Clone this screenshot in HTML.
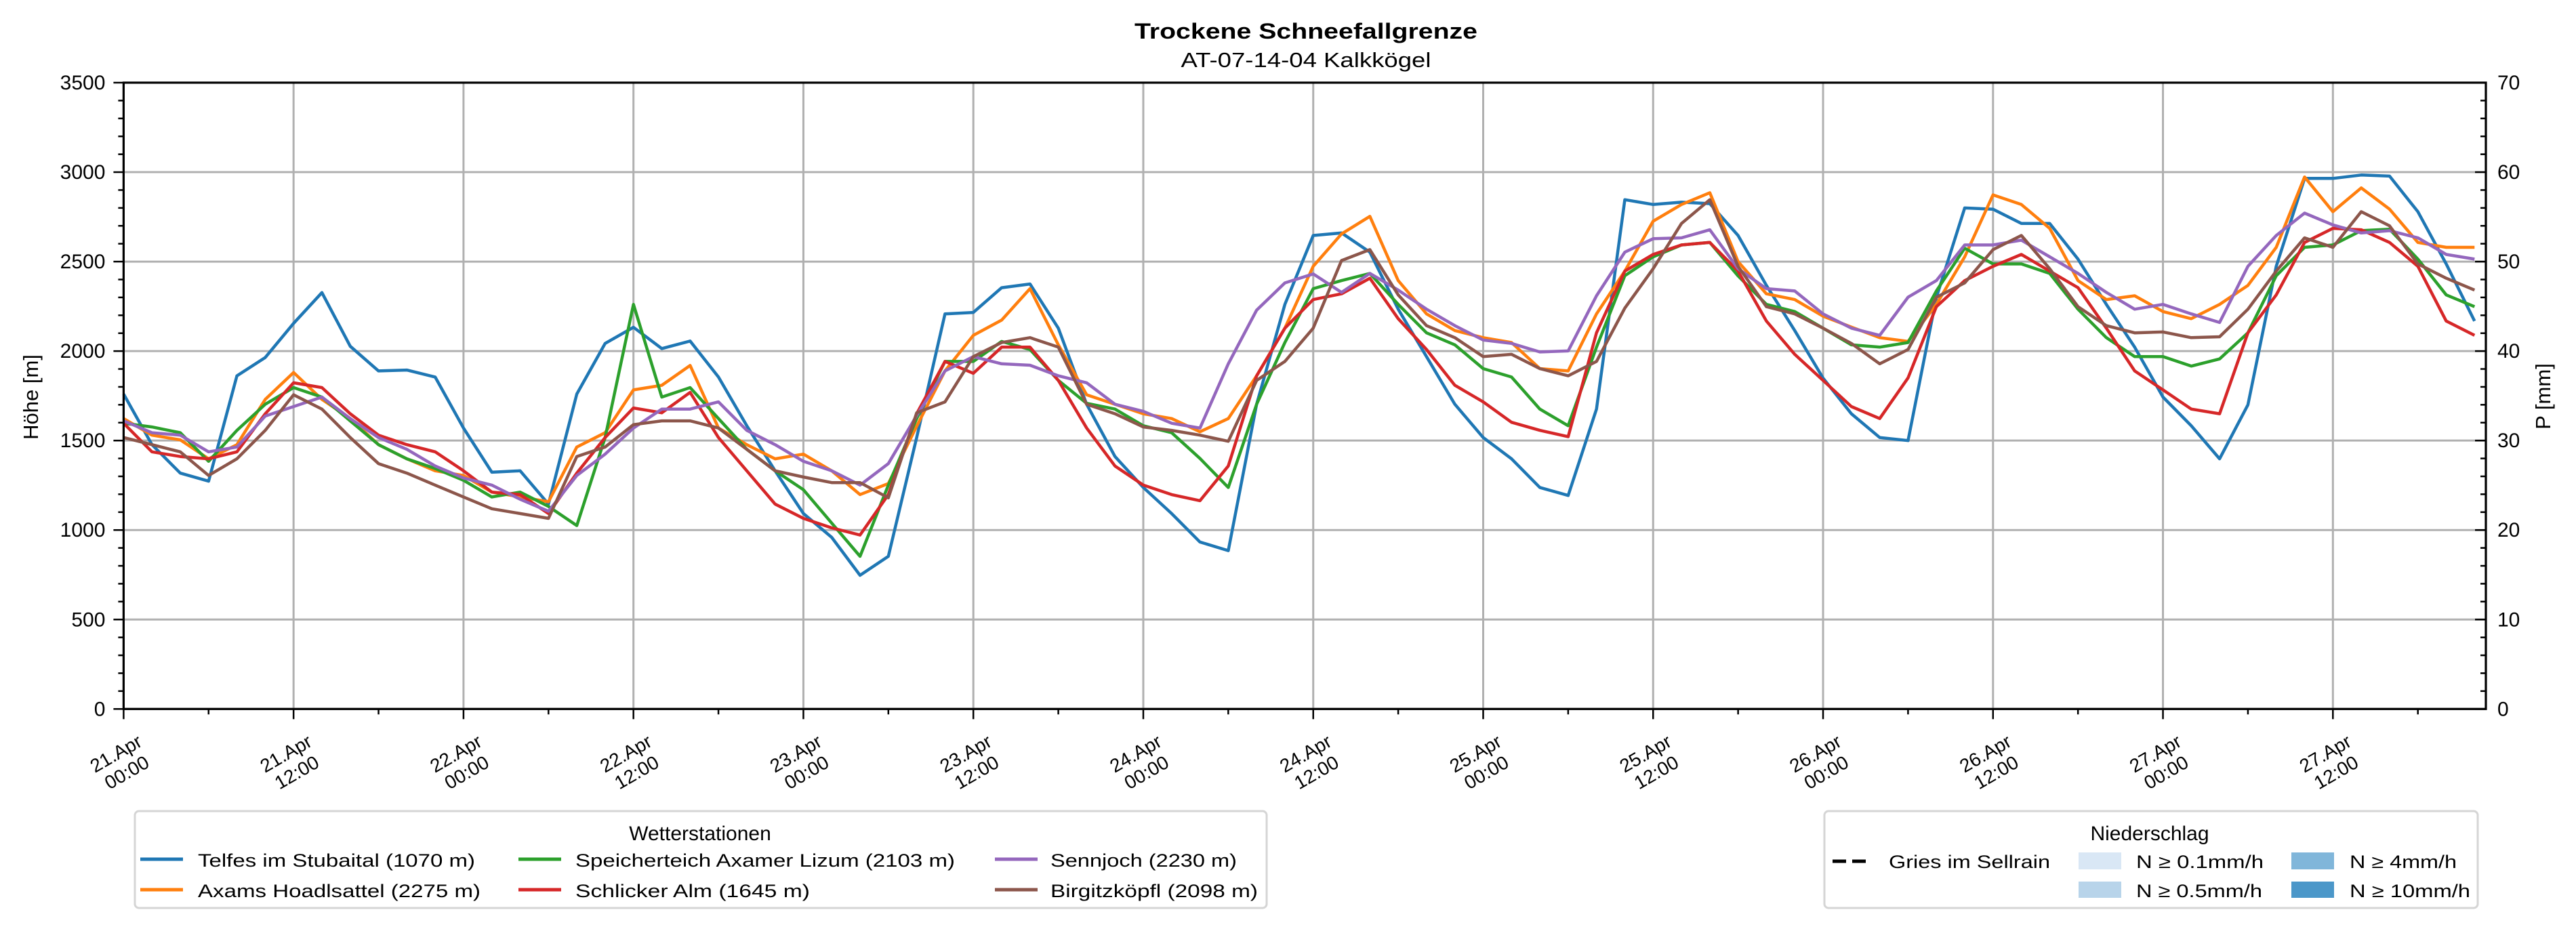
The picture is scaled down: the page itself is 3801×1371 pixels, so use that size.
<!DOCTYPE html>
<html><head><meta charset="utf-8"><style>
html,body{margin:0;padding:0;background:#fff;}
svg{display:block;font-family:"Liberation Sans","DejaVu Sans",sans-serif;}
</style></head><body>
<svg id="chart" width="3801" height="1371" viewBox="0 0 3801 1371" xmlns="http://www.w3.org/2000/svg">
<rect width="3801" height="1371" fill="#fff"/>
<g id="grid"></g>
<g id="series"></g>
<g id="axes"></g>
<text x="1927" y="57" text-anchor="middle" font-size="32" font-weight="bold" textLength="506" lengthAdjust="spacingAndGlyphs">Trockene Schneefallgrenze</text>
<text x="1927" y="99" text-anchor="middle" font-size="31" textLength="369" lengthAdjust="spacingAndGlyphs">AT-07-14-04 Kalkkögel</text>
<text transform="translate(56,586) rotate(-90)" text-anchor="middle" font-size="31">Höhe [m]</text>
<text transform="translate(3763,585) rotate(-90)" text-anchor="middle" font-size="31">P [mm]</text>

<g>
<rect x="199" y="1197" width="1670" height="143" rx="6" fill="#fff" stroke="#d5d5d5" stroke-width="3"/>
<text x="1033" y="1240" text-anchor="middle" font-size="30">Wetterstationen</text>
<g><line x1="207" y1="1268" x2="270" y2="1268" stroke="#1f77b4" stroke-width="5"/><text x="292" y="1279" font-size="27" textLength="409" lengthAdjust="spacingAndGlyphs">Telfes im Stubaital (1070 m)</text></g>
<g><line x1="207" y1="1313" x2="270" y2="1313" stroke="#ff7f0e" stroke-width="5"/><text x="292" y="1324" font-size="27" textLength="417" lengthAdjust="spacingAndGlyphs">Axams Hoadlsattel (2275 m)</text></g>
<g><line x1="765" y1="1268" x2="828" y2="1268" stroke="#2ca02c" stroke-width="5"/><text x="849" y="1279" font-size="27" textLength="560" lengthAdjust="spacingAndGlyphs">Speicherteich Axamer Lizum (2103 m)</text></g>
<g><line x1="765" y1="1313" x2="828" y2="1313" stroke="#d62728" stroke-width="5"/><text x="849" y="1324" font-size="27" textLength="346" lengthAdjust="spacingAndGlyphs">Schlicker Alm (1645 m)</text></g>
<g><line x1="1468" y1="1268" x2="1531" y2="1268" stroke="#9467bd" stroke-width="5"/><text x="1550" y="1279" font-size="27" textLength="275" lengthAdjust="spacingAndGlyphs">Sennjoch (2230 m)</text></g>
<g><line x1="1468" y1="1313" x2="1531" y2="1313" stroke="#8c564b" stroke-width="5"/><text x="1550" y="1324" font-size="27" textLength="306" lengthAdjust="spacingAndGlyphs">Birgitzköpfl (2098 m)</text></g>
</g>

<g>
<rect x="2692" y="1197" width="964" height="143" rx="6" fill="#fff" stroke="#d5d5d5" stroke-width="3"/>
<text x="3172" y="1240" text-anchor="middle" font-size="30">Niederschlag</text>
<g><line x1="2704" y1="1271" x2="2760" y2="1271" stroke="#000" stroke-width="5" stroke-dasharray="20,9"/><text x="2787" y="1281" font-size="27" textLength="238" lengthAdjust="spacingAndGlyphs">Gries im Sellrain</text></g>
<g><rect x="3067" y="1258" width="63" height="25" fill="#d9e7f5"/><text x="3152" y="1281" font-size="27" textLength="188" lengthAdjust="spacingAndGlyphs">N ≥ 0.1mm/h</text></g>
<g><rect x="3067" y="1301" width="63" height="24" fill="#b8d4ea"/><text x="3152" y="1324" font-size="27" textLength="186" lengthAdjust="spacingAndGlyphs">N ≥ 0.5mm/h</text></g>
<g><rect x="3381" y="1258" width="63" height="25" fill="#80b6da"/><text x="3467" y="1281" font-size="27" textLength="158" lengthAdjust="spacingAndGlyphs">N ≥ 4mm/h</text></g>
<g><rect x="3381" y="1301" width="63" height="24" fill="#4b97c9"/><text x="3467" y="1324" font-size="27" textLength="178" lengthAdjust="spacingAndGlyphs">N ≥ 10mm/h</text></g>
</g>
</svg>
<script>
// hours since 21.Apr 00:00, step 2h
const hours = Array.from({length:84},(_, i)=>i*2);
const telfes = [1760,1477,1318,1273,1862,1964,2155,2327,2027,1889,1894,1855,1570,1323,1331,1145,1760,2043,2133,2014,2056,1855,1583,1331,1092,959,747,853,1517,2208,2216,2354,2375,2128,1703,1411,1238,1092,933,885,1703,2261,2646,2660,2553,2234,1969,1703,1517,1398,1238,1193,1676,2846,2819,2832,2824,2646,2367,2115,1849,1650,1517,1500,2300,2800,2793,2713,2713,2514,2261,2022,1743,1583,1398,1700,2474,2965,2965,2984,2978,2779,2487,2168];
const axams = [1623,1530,1504,1398,1477,1730,1880,1730,1623,1477,1398,1331,1305,1212,1185,1158,1464,1544,1783,1809,1920,1570,1477,1398,1424,1331,1198,1260,1580,1889,2088,2173,2349,2035,1756,1703,1650,1623,1549,1623,1862,2128,2474,2655,2753,2394,2208,2115,2075,2048,1902,1889,2208,2447,2726,2819,2885,2500,2320,2288,2195,2134,2075,2054,2261,2527,2873,2819,2686,2394,2288,2309,2221,2181,2261,2367,2580,2973,2779,2912,2793,2607,2580,2580];
const speicherteich = [1597,1576,1544,1384,1557,1703,1796,1743,1610,1477,1398,1344,1278,1185,1212,1132,1025,1517,2261,1743,1796,1623,1451,1331,1225,1039,853,1251,1623,1942,1942,2054,2009,1836,1708,1676,1583,1544,1400,1238,1703,2048,2349,2394,2434,2261,2102,2035,1902,1855,1676,1583,2022,2421,2527,2593,2607,2420,2261,2221,2128,2035,2022,2048,2336,2575,2487,2487,2434,2234,2075,1969,1969,1916,1956,2102,2421,2580,2593,2673,2681,2514,2314,2248];
const schlicker = [1597,1437,1411,1398,1437,1650,1823,1796,1650,1530,1477,1437,1331,1212,1198,1092,1318,1517,1682,1655,1769,1517,1331,1145,1065,1012,972,1198,1650,1942,1876,2022,2022,1836,1570,1358,1251,1198,1164,1358,1862,2128,2288,2320,2407,2181,2009,1809,1716,1602,1557,1522,2102,2447,2540,2593,2607,2447,2168,1982,1836,1690,1623,1850,2248,2394,2474,2540,2447,2354,2128,1889,1783,1676,1650,2102,2314,2607,2686,2678,2607,2474,2168,2088];
const sennjoch = [1610,1544,1530,1437,1464,1637,1690,1743,1623,1517,1451,1358,1291,1251,1172,1105,1305,1424,1570,1676,1676,1716,1557,1477,1384,1331,1251,1371,1640,1889,1969,1929,1921,1862,1823,1703,1663,1597,1570,1929,2229,2381,2431,2328,2434,2341,2234,2142,2062,2043,1995,2001,2309,2553,2628,2633,2678,2460,2349,2336,2208,2128,2088,2301,2394,2593,2593,2620,2527,2434,2328,2234,2261,2208,2160,2474,2646,2771,2705,2660,2673,2633,2540,2514];
const birgitz = [1517,1477,1437,1305,1398,1557,1756,1676,1517,1371,1318,1251,1185,1119,1092,1065,1411,1464,1589,1610,1610,1570,1451,1331,1296,1265,1265,1180,1655,1716,1969,2048,2075,2022,1703,1650,1576,1557,1530,1496,1836,1942,2128,2506,2567,2314,2142,2075,1969,1982,1902,1862,1942,2240,2460,2713,2846,2474,2248,2208,2128,2043,1929,2009,2301,2381,2567,2646,2460,2248,2142,2102,2107,2075,2080,2234,2447,2633,2580,2779,2700,2487,2407,2341];
const seriesNames = ["telfes","axams","speicherteich","schlicker","sennjoch","birgitz"];
const yTicks = [0,500,1000,1500,2000,2500,3000,3500];
const y2Ticks = [0,10,20,30,40,50,60,70];
const xTickLabels = [["21.Apr","00:00"],["21.Apr","12:00"],["22.Apr","00:00"],["22.Apr","12:00"],["23.Apr","00:00"],["23.Apr","12:00"],["24.Apr","00:00"],["24.Apr","12:00"],["25.Apr","00:00"],["25.Apr","12:00"],["26.Apr","00:00"],["26.Apr","12:00"],["27.Apr","00:00"],["27.Apr","12:00"]];

const NS="http://www.w3.org/2000/svg";
const L=182.4,R=3668,T=122,B=1046.3,HMAX=166.8,YMAX=3500,PMAX=70;
const xs=h=>L+(R-L)*h/HMAX;
const ys=v=>B-(B-T)*v/YMAX;
const y2s=v=>B-(B-T)*v/PMAX;
function mk(tag,attrs,parent){const e=document.createElementNS(NS,tag);for(const k in attrs)e.setAttribute(k,attrs[k]);parent.appendChild(e);return e;}
const grid=document.getElementById('grid'),ser=document.getElementById('series'),ax=document.getElementById('axes');
yTicks.forEach(v=>{const g=mk('line',{x1:L,x2:R,y1:ys(v),y2:ys(v),stroke:'#b0b0b0','stroke-width':3},grid);

});
xTickLabels.forEach((lab,i)=>{const x=xs(i*12);const g=mk('line',{x1:x,x2:x,y1:T,y2:B,stroke:'#b0b0b0','stroke-width':3},grid);

});
const colors={telfes:'#1f77b4',axams:'#ff7f0e',speicherteich:'#2ca02c',schlicker:'#d62728',sennjoch:'#9467bd',birgitz:'#8c564b'};
const dataMap={telfes,axams,speicherteich,schlicker,sennjoch,birgitz};
seriesNames.forEach(n=>{const d=dataMap[n].map((v,i)=>(i?'L':'M')+xs(hours[i]).toFixed(1)+','+ys(v).toFixed(1)).join('');
const p=mk('path',{d,fill:'none',stroke:colors[n],'stroke-width':4.5,'stroke-linejoin':'round'},ser);

});
const fr=mk('rect',{x:L,y:T,width:R-L,height:B-T,fill:'none',stroke:'#000','stroke-width':3.2},ax);


for(let v=0;v<=YMAX;v+=100){const major=v%500===0;mk('line',{x1:L-(major?15:8),x2:L,y1:ys(v),y2:ys(v),stroke:'#000','stroke-width':2.5},ax);}
yTicks.forEach(v=>{const t=mk('text',{x:L-27,y:ys(v)+10,'text-anchor':'end','font-size':30},ax);t.textContent=v;

});
for(let v=0;v<=PMAX;v+=2){const major=v%10===0;mk('line',{x1:R-(major?16:8),x2:R,y1:y2s(v),y2:y2s(v),stroke:'#000','stroke-width':2.5},ax);}
y2Ticks.forEach(v=>{const t=mk('text',{x:R+17,y:y2s(v)+10,'font-size':30},ax);t.textContent=v;

});
for(let h=0;h<=HMAX;h+=6){const major=h%12===0;mk('line',{x1:xs(h),x2:xs(h),y1:B,y2:B+(major?15:8),stroke:'#000','stroke-width':2.5},ax);}
xTickLabels.forEach((lab,i)=>{const x=xs(i*12);const t=mk('text',{transform:`translate(${x-2},${B+82}) rotate(-30)`,'text-anchor':'middle','font-size':28},ax);


const a=mk('tspan',{x:0,y:-9},t);a.textContent=lab[0];const b=mk('tspan',{x:0,y:23},t);b.textContent=lab[1];});
</script>
</body></html>
